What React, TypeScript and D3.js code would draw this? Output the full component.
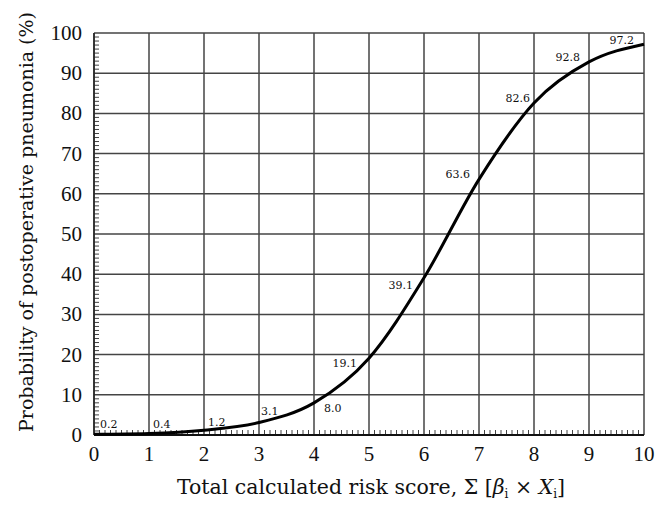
import React from "react";
import * as d3 from "d3";

const scores = [0, 1, 2, 3, 4, 5, 6, 7, 8, 9, 10];
const probabilities = [0.2, 0.4, 1.2, 3.1, 8.0, 19.1, 39.1, 63.6, 82.6, 92.8, 97.2];
const pointLabels = ["0.2", "0.4", "1.2", "3.1", "8.0", "19.1", "39.1", "63.6", "82.6", "92.8", "97.2"];
const xTicks = [0, 1, 2, 3, 4, 5, 6, 7, 8, 9, 10];
const yTicks = [0, 10, 20, 30, 40, 50, 60, 70, 80, 90, 100];

// label placement offsets (layout, not data)
const labelOffsets: [number, number, "start" | "end"][] = [
  [6, -6, "start"],
  [4, -5, "start"],
  [4, -4, "start"],
  [2, -8, "start"],
  [10, 9, "start"],
  [-12, 9, "end"],
  [-11, 11, "end"],
  [-9, -1, "end"],
  [-4, -1, "end"],
  [-9, -1, "end"],
  [-10, 0, "end"],
];

const W = 663;
const H = 508;
const left = 94;
const right = 644;
const top = 33;
const bottom = 435;
const FONT = "'Liberation Serif', 'DejaVu Serif', serif";
const WIDE = "'DejaVu Serif', 'Liberation Serif', serif";

export default function App() {
  const x = d3.scaleLinear().domain([0, 10]).range([left, right]);
  const y = d3.scaleLinear().domain([0, 100]).range([bottom, top]);
  const data = scores.map((s, i) => ({ s, p: probabilities[i] }));
  const line = d3
    .line<{ s: number; p: number }>()
    .x((d) => x(d.s))
    .y((d) => y(d.p))
    .curve(d3.curveMonotoneX);

  const xMinor = d3.range(0, 100).map((i) => i / 10).filter((v) => Math.abs(v - Math.round(v)) > 1e-6);
  const yMinor = d3.range(0, 100).filter((v) => v % 10 !== 0);

  return (
    <svg
      width={W}
      height={H}
      style={{ position: "absolute", left: 0, top: 0, background: "#fff" }}
      fontFamily={FONT}
    >
      <rect x={0} y={0} width={W} height={H} fill="#fff" />
      {xTicks.map((t) => (
        <line key={"gx" + t} x1={x(t)} x2={x(t)} y1={y(0)} y2={y(100)} stroke="#444" strokeWidth={1.5} />
      ))}
      {yTicks.map((t) => (
        <line key={"gy" + t} x1={x(0)} x2={x(10)} y1={y(t)} y2={y(t)} stroke="#444" strokeWidth={1.5} />
      ))}
      {xMinor.map((t) => (
        <line key={"mx" + t} x1={x(t)} x2={x(t)} y1={y(0)} y2={y(0) - 5} stroke="#444" strokeWidth={1} />
      ))}
      {yMinor.map((t) => (
        <line key={"my" + t} x1={x(0)} x2={x(0) + 5} y1={y(t)} y2={y(t)} stroke="#444" strokeWidth={1} />
      ))}
      <line x1={x(0)} x2={x(10)} y1={y(0)} y2={y(0)} stroke="#111" strokeWidth={2} />
      <line x1={x(0)} x2={x(0)} y1={y(0)} y2={y(100)} stroke="#222" strokeWidth={1.5} />
      <path d={line(data) || ""} fill="none" stroke="#000" strokeWidth={3} />
      {data.map((d, i) => {
        const [dx, dy, anchor] = labelOffsets[i];
        return (
          <text key={"pl" + i} x={x(d.s) + dx} y={y(d.p) + dy} fontSize={11} fontFamily={WIDE} textAnchor={anchor} fill="#111">
            {pointLabels[i]}
          </text>
        );
      })}
      {xTicks.map((t) => (
        <text key={"xt" + t} x={x(t)} y={461} fontSize={21} textAnchor="middle" fill="#111">
          {t}
        </text>
      ))}
      {yTicks.map((t) => (
        <text key={"yt" + t} x={82} y={y(t) + 7} fontSize={21} textAnchor="end" fill="#111">
          {t}
        </text>
      ))}
      <text x={371} y={494} fontSize={20.5} fontFamily={WIDE} textAnchor="middle" fill="#111">
        Total calculated risk score, Σ [
        <tspan fontStyle="italic">β</tspan>
        <tspan fontSize={12} dy={4}>i</tspan>
        <tspan dy={-4}> × </tspan>
        <tspan fontStyle="italic">X</tspan>
        <tspan fontSize={12} dy={4}>i</tspan>
        <tspan dy={-4}>]</tspan>
      </text>
      <text
        transform={`translate(33, 222) rotate(-90)`}
        fontSize={19}
        fontFamily={WIDE}
        textAnchor="middle"
        fill="#111"
      >
        Probability of postoperative pneumonia (%)
      </text>
    </svg>
  );
}
